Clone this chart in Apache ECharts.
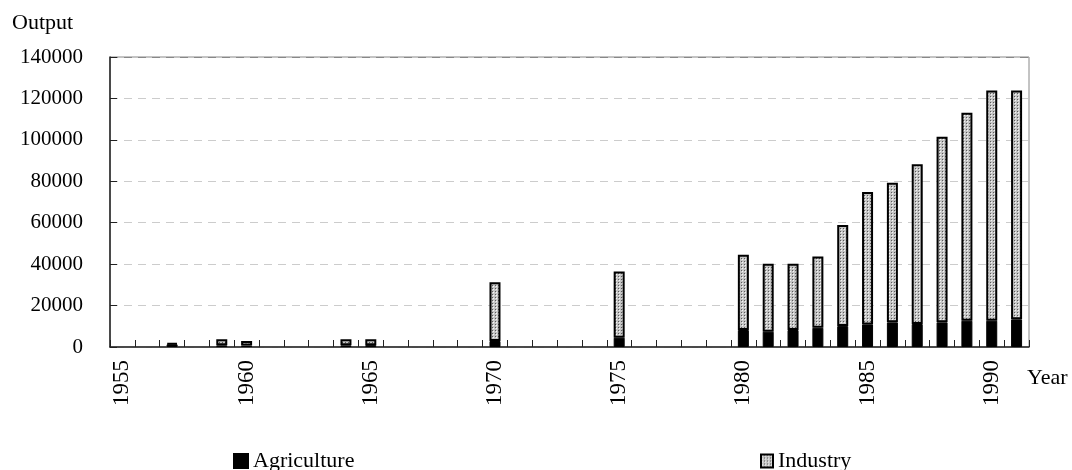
<!DOCTYPE html>
<html>
<head>
<meta charset="utf-8">
<script src="https://cdn.jsdelivr.net/npm/echarts@6/dist/echarts.min.js"></script>
<style>html,body{margin:0;padding:0;background:#fff}#c{width:1072px;height:470px}</style>
</head>
<body>
<div id="c"></div>
<script>
var years = [];
for (var y = 1955; y <= 1991; y++) years.push(String(y));
var agriculture = [null, null, 1300, null, 800, 700, null, null, null, 800, 900, null, null, null, null, 2900, null, null, null, null, 4500, null, null, null, null, 8200, 7400, 8200, 9300, 10100, 10900, 11900, 11100, 11900, 12700, 12700, 13350];
var industry = [null, null, 600, null, 3000, 2200, null, null, null, 2900, 2800, null, null, null, null, 28400, null, null, null, null, 32000, null, null, null, null, 36300, 32750, 31950, 34400, 48850, 63950, 67450, 77100, 89600, 100400, 111150, 110500];
var yTicks = [0, 20000, 40000, 60000, 80000, 100000, 120000, 140000];

var pat = document.createElement('canvas');
pat.width = 3; pat.height = 3;
var ctx = pat.getContext('2d');
ctx.fillStyle = '#c4c4c4'; ctx.fillRect(0, 0, 3, 3);
ctx.fillStyle = '#f6f6f6'; ctx.fillRect(1, 1, 1, 1);
ctx.fillStyle = '#5a5a5a'; ctx.fillRect(0, 0, 1, 1);
var patColor = { image: pat, repeat: 'repeat' };

var font = 'Liberation Serif';
var chart = echarts.init(document.getElementById('c'), null, { renderer: 'canvas' });
chart.setOption({
  animation: false,
  title: [
    { text: 'Output', left: 12, top: 12, padding: 0, textStyle: { fontFamily: font, fontSize: 22, fontWeight: 'normal', color: '#000' } },
    { text: 'Year', left: 1027, top: 367, padding: 0, textStyle: { fontFamily: font, fontSize: 22, fontWeight: 'normal', color: '#000' } }
  ],
  legend: [
    { data: ['Agriculture'], left: 233, top: 450, padding: 0, icon: 'rect', itemWidth: 14, itemHeight: 14, itemGap: 6, textStyle: { fontFamily: font, fontSize: 22, color: '#000' } },
    { data: ['Industry'], left: 760, top: 450, padding: 0, icon: 'rect', itemWidth: 12, itemHeight: 13, itemGap: 6, textStyle: { fontFamily: font, fontSize: 22, color: '#000' } }
  ],
  grid: { left: 110, right: 43, top: 57, bottom: 123, show: true, borderColor: '#888', borderWidth: 1 },
  xAxis: {
    type: 'category',
    data: years,
    axisLine: { lineStyle: { color: '#222', width: 1.5 } },
    axisTick: { show: true, inside: true, length: 7, interval: 0, alignWithLabel: false, lineStyle: { color: '#222', width: 1 } },
    axisLabel: { interval: 4, rotate: 90, margin: 13, fontFamily: font, fontSize: 23, color: '#000' }
  },
  yAxis: {
    type: 'value',
    min: 0, max: 140000, interval: 20000,
    axisLine: { show: true, lineStyle: { color: '#222', width: 1.5 } },
    axisTick: { show: true, inside: true, length: 7, lineStyle: { color: '#222' } },
    axisLabel: { margin: 27, fontFamily: font, fontSize: 21, color: '#000', formatter: function (v) { return yTicks.indexOf(v) >= 0 ? String(v) : ''; } },
    splitLine: { show: true, lineStyle: { color: ['#ccc', '#ccc', '#ccc', '#ccc', '#ccc', '#ccc', '#ccc', '#888'], type: [8, 6], width: 1 } }
  },
  series: [
    { name: 'Agriculture', type: 'bar', stack: 'total', barWidth: 11, data: agriculture, itemStyle: { color: '#000', borderColor: '#000', borderWidth: 1 } },
    { name: 'Industry', type: 'bar', stack: 'total', barWidth: 11, data: industry, itemStyle: { color: patColor, borderColor: '#000', borderWidth: 2 } }
  ]
});
</script>
</body>
</html>
